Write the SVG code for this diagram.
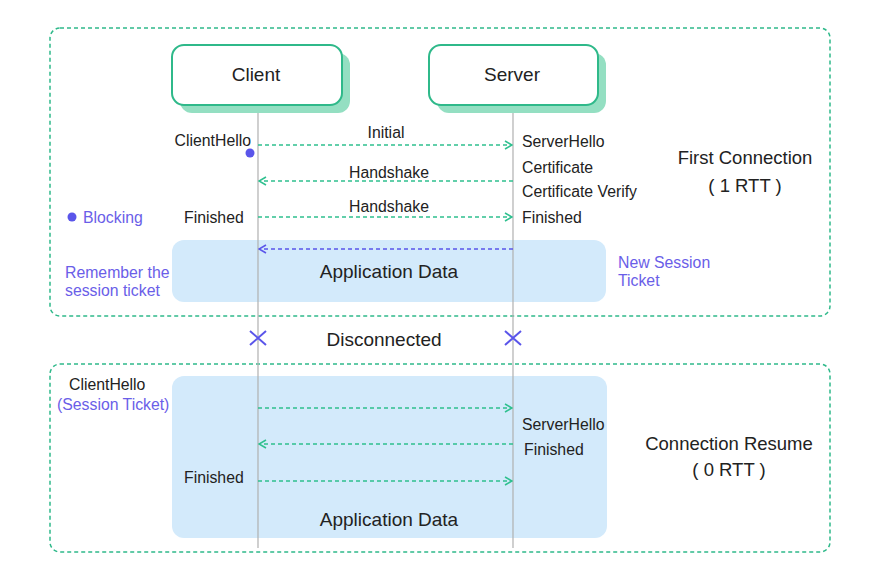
<svg xmlns="http://www.w3.org/2000/svg" width="880" height="580" viewBox="0 0 880 580">
<defs>
<style>
text{font-family:"Liberation Sans",Arial,sans-serif;fill:#222}
.frame{fill:none;stroke:#2fb98a;stroke-width:1.5;stroke-dasharray:4 3}
.life{stroke:#b0b0b0;stroke-width:1.2}
.msg{stroke:#2fc08f;stroke-width:1.3;stroke-dasharray:4 3;fill:none}
.msgb{stroke:#5a55ea;stroke-width:1.3;stroke-dasharray:4 3;fill:none}
.app{fill:#d3eafb}
.lbl{font-size:15.8px}
.big{font-size:19px}
.ttl{font-size:18.5px}
.pur{fill:#6a5ee8}
.node{fill:#fff;stroke:#2fb98a;stroke-width:2}
.shadow{fill:#94dfc2}
</style>
<marker id="ag" viewBox="0 0 10 10" refX="9" refY="5" markerWidth="10" markerHeight="10" markerUnits="userSpaceOnUse" orient="auto-start-reverse">
<path d="M2,1 L9,5 L2,9" fill="none" stroke="#2fc08f" stroke-width="1.6"/>
</marker>
<marker id="ab" viewBox="0 0 10 10" refX="9" refY="5" markerWidth="10" markerHeight="10" markerUnits="userSpaceOnUse" orient="auto-start-reverse">
<path d="M2,1 L9,5 L2,9" fill="none" stroke="#5a55ea" stroke-width="1.6"/>
</marker>
</defs>

<g id="frames">
<rect class="frame" x="50" y="28" width="780" height="288" rx="10"/>
<rect class="frame" x="50" y="364" width="780" height="188" rx="10"/>
</g>

<g id="app-areas">
<rect class="app" x="172" y="240" width="434" height="62" rx="12"/>
<rect class="app" x="172" y="376" width="435" height="162" rx="12"/>
</g>

<g id="lifelines">
<line class="life" x1="258" y1="105" x2="258" y2="548"/>
<line class="life" x1="513" y1="105" x2="513" y2="548"/>
</g>

<g id="client">
<rect class="shadow" x="180" y="53" width="170" height="60" rx="12"/>
<rect class="node" x="172" y="45" width="170" height="60" rx="12"/>
<text x="256" y="81" text-anchor="middle" class="big">Client</text>
</g>

<g id="server">
<rect class="shadow" x="437" y="53" width="169" height="60" rx="12"/>
<rect class="node" x="429" y="45" width="169" height="60" rx="12"/>
<text x="512" y="81" text-anchor="middle" class="big">Server</text>
</g>

<g id="connectors">
<line class="msg" x1="258" y1="145" x2="512" y2="145" marker-end="url(#ag)"/>
<line class="msg" x1="513" y1="181" x2="259" y2="181" marker-end="url(#ag)"/>
<line class="msg" x1="258" y1="217" x2="512" y2="217" marker-end="url(#ag)"/>
<line class="msgb" x1="513" y1="249" x2="259" y2="249" marker-end="url(#ab)"/>
<line class="msg" x1="258" y1="408" x2="512" y2="408" marker-end="url(#ag)"/>
<line class="msg" x1="513" y1="444" x2="259" y2="444" marker-end="url(#ag)"/>
<line class="msg" x1="258" y1="481" x2="512" y2="481" marker-end="url(#ag)"/>
</g>

<g id="labels-first">
<text x="251" y="145.5" text-anchor="end" class="lbl">ClientHello</text>
<circle cx="250" cy="153" r="4.5" fill="#5a55ea"/>
<text x="386" y="137.5" text-anchor="middle" class="lbl">Initial</text>
<text x="389" y="177.5" text-anchor="middle" class="lbl">Handshake</text>
<text x="389" y="211.5" text-anchor="middle" class="lbl">Handshake</text>
<text x="522" y="146.5" class="lbl">ServerHello</text>
<text x="522" y="172.5" class="lbl">Certificate</text>
<text x="522" y="197" class="lbl">Certificate Verify</text>
<text x="522" y="222.5" class="lbl">Finished</text>
<text x="184" y="222.5" class="lbl">Finished</text>
<circle cx="72" cy="217" r="4.5" fill="#5a55ea"/>
<text x="83" y="222.5" class="lbl pur">Blocking</text>
<text x="745" y="164" text-anchor="middle" class="ttl">First Connection</text>
<text x="745" y="192" text-anchor="middle" class="ttl">( 1 RTT )</text>
<text x="389" y="278" text-anchor="middle" class="big">Application Data</text>
<text x="65" y="277.5" class="lbl pur">Remember the</text>
<text x="65" y="295.5" class="lbl pur">session ticket</text>
<text x="618" y="267.5" class="lbl pur">New Session</text>
<text x="618" y="285.5" class="lbl pur">Ticket</text>
</g>

<g id="disconnect">
<path d="M250,331 L266,345 M266,331 L250,345" stroke="#5a55ea" stroke-width="2" fill="none"/>
<path d="M505,331 L521,345 M521,331 L505,345" stroke="#5a55ea" stroke-width="2" fill="none"/>
<text x="384" y="345.5" text-anchor="middle" class="big">Disconnected</text>
</g>

<g id="labels-resume">
<text x="69" y="389.5" class="lbl">ClientHello</text>
<text x="57" y="409.5" class="lbl pur">(Session Ticket)</text>
<text x="522" y="429.5" class="lbl">ServerHello</text>
<text x="524" y="454.5" class="lbl">Finished</text>
<text x="184" y="482.5" class="lbl">Finished</text>
<text x="389" y="525.5" text-anchor="middle" class="big">Application Data</text>
<text x="729" y="450" text-anchor="middle" class="ttl">Connection Resume</text>
<text x="729" y="476" text-anchor="middle" class="ttl">( 0 RTT )</text>
</g>
</svg>
